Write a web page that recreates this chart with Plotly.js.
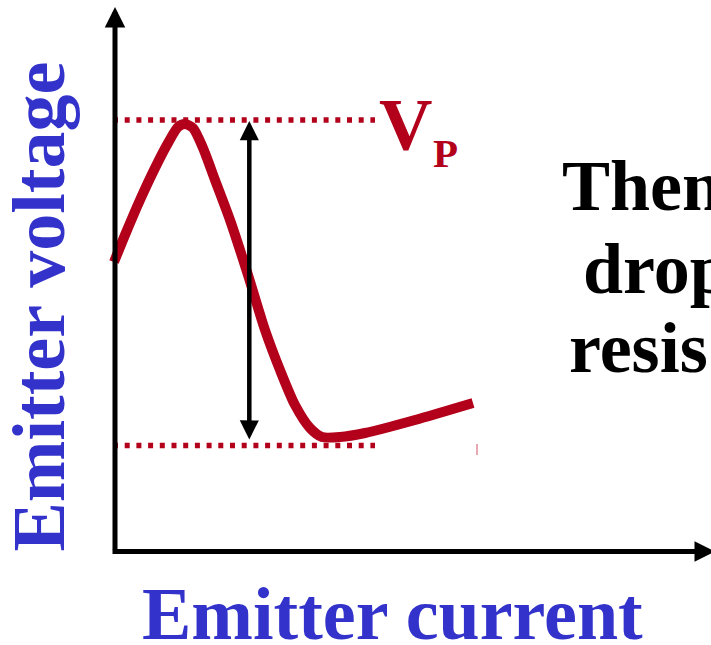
<!DOCTYPE html>
<html>
<head>
<meta charset="utf-8">
<script src="https://cdn.plot.ly/plotly-3.0.1.min.js"></script>
<style>
  html, body { margin: 0; padding: 0; background: #ffffff; overflow: hidden; }
  #chart { width: 711px; height: 645px; }
</style>
</head>
<body>
<div id="chart"></div>
<script>
// ---- data (emitter current vs emitter voltage, arbitrary units) ----
const emitterCurrent = [-0.01, 0.10, 0.25, 0.40, 0.53, 0.63, 0.70, 0.78, 0.88, 1.00, 1.15, 1.33, 1.50, 1.65, 1.80, 1.95, 2.07, 2.25, 2.50, 3.00, 3.58];
const emitterVoltage = [2.88, 3.15, 3.50, 3.82, 4.07, 4.23, 4.26, 4.22, 4.02, 3.70, 3.30, 2.75, 2.20, 1.80, 1.45, 1.22, 1.13, 1.13, 1.17, 1.30, 1.47];

const levelCurrent = [-0.02, 2.60];
const peakLevel = [4.30, 4.30];
const valleyLevel = [1.045, 1.045];

const arrowCurrent = 1.343;
const arrowTop = 4.29;
const arrowBottom = 1.09;

const xAxisEnd = 6.0;
const yAxisEnd = 5.43;

const peakLabel = 'V';
const peakSub = 'P';
const sideText = ['Then', 'drop', 'resis'];
const xTitle = 'Emitter current';
const yTitle = 'Emitter voltage';

// ---- styles ----
const red = '#b3001b';
const blue = '#3333cc';
const serif = '"Liberation Serif", "Times New Roman", Times, serif';

const traces = [
  {
    x: levelCurrent, y: peakLevel, mode: 'lines', type: 'scatter',
    line: { color: red, width: 5.5, dash: '5px,6.7px' }, hoverinfo: 'skip'
  },
  {
    x: levelCurrent, y: valleyLevel, mode: 'lines', type: 'scatter',
    line: { color: red, width: 5.5, dash: '5px,6.7px' }, hoverinfo: 'skip'
  },
  {
    x: emitterCurrent, y: emitterVoltage, mode: 'lines', type: 'scatter',
    line: { color: red, width: 10, shape: 'spline', smoothing: 0.7 }, hoverinfo: 'skip'
  }
];

const arrowCommon = {
  text: '', showarrow: true, axref: 'x', ayref: 'y', xref: 'x', yref: 'y',
  arrowcolor: '#000000', arrowwidth: 5, arrowhead: 2, arrowsize: 0.82
};

const annotations = [
  // y axis
  Object.assign({}, arrowCommon, { x: 0, y: yAxisEnd, ax: 0, ay: -0.01 }),
  // x axis
  Object.assign({}, arrowCommon, { x: xAxisEnd, y: -0.015, ax: -0.04, ay: -0.015 }),
  // double arrow
  Object.assign({}, arrowCommon, {
    x: arrowCurrent, y: arrowTop, ax: arrowCurrent, ay: arrowBottom,
    arrowwidth: 4.5, arrowsize: 0.85,
    arrowside: 'end+start', startarrowhead: 2, startarrowsize: 0.85
  }),
  // V_P label
  { x: 2.62, y: 4.25, xref: 'x', yref: 'y', xanchor: 'left', yanchor: 'middle', showarrow: false,
    text: peakLabel, font: { family: serif, size: 74, color: red, weight: 'bold' } },
  { x: 3.16, y: 3.97, xref: 'x', yref: 'y', xanchor: 'left', yanchor: 'middle', showarrow: false,
    text: peakSub, font: { family: serif, size: 41, color: red, weight: 'bold' } },
  // side text
  { x: 4.45, y: 3.643, xref: 'x', yref: 'y', xanchor: 'left', yanchor: 'middle', showarrow: false,
    text: sideText[0], font: { family: serif, size: 72, color: '#000000', weight: 'bold' } },
  { x: 4.66, y: 2.813, xref: 'x', yref: 'y', xanchor: 'left', yanchor: 'middle', showarrow: false,
    text: sideText[1], font: { family: serif, size: 72, color: '#000000', weight: 'bold' } },
  { x: 4.52, y: 2.023, xref: 'x', yref: 'y', xanchor: 'left', yanchor: 'middle', showarrow: false,
    text: sideText[2], font: { family: serif, size: 72, color: '#000000', weight: 'bold' } },
  // axis titles
  { x: 2.775, y: -0.64, xref: 'x', yref: 'y', xanchor: 'center', yanchor: 'middle', showarrow: false,
    text: xTitle, font: { family: serif, size: 74, color: blue, weight: 'bold' } },
  { x: -0.77, y: 2.435, xref: 'x', yref: 'y', xanchor: 'center', yanchor: 'middle', showarrow: false,
    textangle: -90, text: yTitle, font: { family: serif, size: 74, color: blue, weight: 'bold' } }
];

const shapes = [
  { type: 'line', xref: 'x', yref: 'y', x0: 3.62, x1: 3.62, y0: 1.06, y1: 0.95,
    line: { color: 'rgba(200,60,80,0.6)', width: 1.5 } }
];

const hiddenAxis = {
  showgrid: false, zeroline: false, showline: false, showticklabels: false,
  ticks: '', fixedrange: true
};

const layout = {
  width: 711, height: 645,
  margin: { l: 0, r: 0, t: 0, b: 0, pad: 0 },
  paper_bgcolor: '#ffffff', plot_bgcolor: '#ffffff',
  showlegend: false,
  xaxis: Object.assign({ range: [-1.15, 5.96], domain: [0, 1] }, hiddenAxis),
  yaxis: Object.assign({ range: [-0.95, 5.5], domain: [0, 1] }, hiddenAxis),
  annotations: annotations,
  shapes: shapes
};

Plotly.newPlot('chart', traces, layout, { staticPlot: true, displayModeBar: false });
</script>
</body>
</html>
